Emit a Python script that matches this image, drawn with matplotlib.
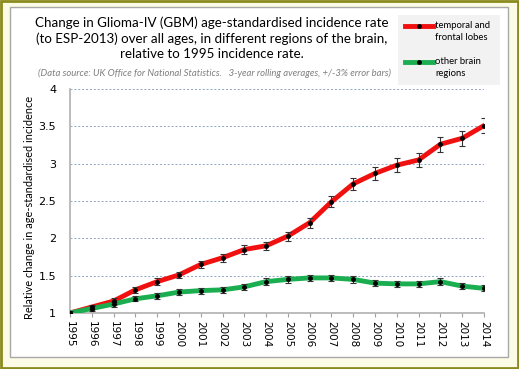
import matplotlib
matplotlib.use('Agg')
import matplotlib.pyplot as plt
from matplotlib.patches import Rectangle
from matplotlib.lines import Line2D
import numpy as np

years = np.arange(1995, 2015)
temporal_frontal = [1.00, 1.08, 1.16, 1.31, 1.42, 1.51, 1.65, 1.74, 1.85, 1.90,
                    2.03, 2.21, 2.49, 2.73, 2.87, 2.98, 3.05, 3.26, 3.34, 3.51]
other_regions = [1.00, 1.06, 1.12, 1.19, 1.23, 1.28, 1.30, 1.31, 1.35, 1.42,
                 1.45, 1.47, 1.47, 1.45, 1.40, 1.39, 1.39, 1.42, 1.36, 1.33]
err_frac = 0.03
yticks = [1, 1.5, 2, 2.5, 3, 3.5, 4]

red = '#F01010'
green = '#1AAE50'
cal = 'Lato'

fig = plt.figure(figsize=(5.19, 3.69), dpi=100)
fig.patch.set_facecolor('#FCFCE6')
W, H = 519.0, 369.0
# olive outer border and inner white frame
fig.patches.append(Rectangle((1/W, 1/H), 1-2/W, 1-2/H, transform=fig.transFigure,
                             fill=False, edgecolor='#8A8A1E', lw=2.0, zorder=-2))
fig.patches.append(Rectangle((10/W, 1-357/H), 498/W, 350/H, transform=fig.transFigure,
                             facecolor='white', edgecolor='#A8A8A8', lw=1.0, zorder=-2))

ax = fig.add_axes([70/W, 1-313/H, 414/W, 224/H])
ax.set_facecolor('none')

for vals, col in [(temporal_frontal, red), (other_regions, green)]:
    v = np.array(vals)
    ax.plot(years, v, color=col, lw=3.5, zorder=3, solid_capstyle='round')
    ax.errorbar(years, v, yerr=v*err_frac, fmt='o', ms=2.5, color='black',
                ecolor='#333333', elinewidth=0.8, capsize=2.5, capthick=0.8, zorder=4)

ax.set_xlim(1995, 2014)
ax.set_ylim(1, 4)
ax.set_yticks(yticks)
ax.set_yticklabels(['1', '1.5', '2', '2.5', '3', '3.5', '4'])
ax.set_xticks(years)
ax.set_xticklabels([str(y) for y in years], rotation=270)
ax.tick_params(axis='x', length=3, color='#A0A0A0', labelsize=7.5, pad=3)
ax.tick_params(axis='y', length=0, labelsize=8, pad=10)
ax.grid(axis='y', ls=(0, (2, 2)), color='#8EA6C6', lw=0.7)
ax.set_axisbelow(True)
for s in ['top', 'right']:
    ax.spines[s].set_visible(False)
ax.spines['left'].set_color('#B0B0B0')
ax.spines['bottom'].set_color('#B0B0B0')
ax.spines['left'].set_linewidth(1.2)
ax.spines['bottom'].set_linewidth(1.2)
ax.set_ylabel('Relative change in age-standardised incidence', family=cal,
              fontsize=7.9)
ax.yaxis.set_label_coords(-35/414, 0.47)

fig.text(212/W, 1-38/H, 'Change in Glioma-IV (GBM) age-standardised incidence rate\n'
         '(to ESP-2013) over all ages, in different regions of the brain,\n'
         'relative to 1995 incidence rate.', ha='center', va='center',
         family=cal, fontsize=9.6, linespacing=1.3)
fig.text(214/W, 1-73/H, '(Data source: UK Office for National Statistics.   3-year rolling '
         'averages, +/-3% error bars)', ha='center', va='center', family=cal,
         style='italic', fontsize=6.8, color='#7F7F7F')

# legend box
fig.patches.append(Rectangle((398/W, 1-85/H), 102/W, 70/H, transform=fig.transFigure,
                             facecolor='#F2F2F2', edgecolor='none', zorder=-1))
for yy, col, lab in [(26, red, 'temporal and\nfrontal lobes'),
                     (62, green, 'other brain\nregions')]:
    fig.lines.append(Line2D([405/W, 433/W], [1-yy/H, 1-yy/H], transform=fig.transFigure,
                            color=col, lw=3.5))
    fig.lines.append(Line2D([419/W], [1-yy/H], transform=fig.transFigure,
                            marker='o', ms=2.5, color='black'))
    fig.text(435/W, 1-(yy-5)/H, lab, ha='left', va='top', family=cal,
             fontsize=6.8, linespacing=1.4)

fig.savefig('out.png', dpi=100, facecolor=fig.get_facecolor())
